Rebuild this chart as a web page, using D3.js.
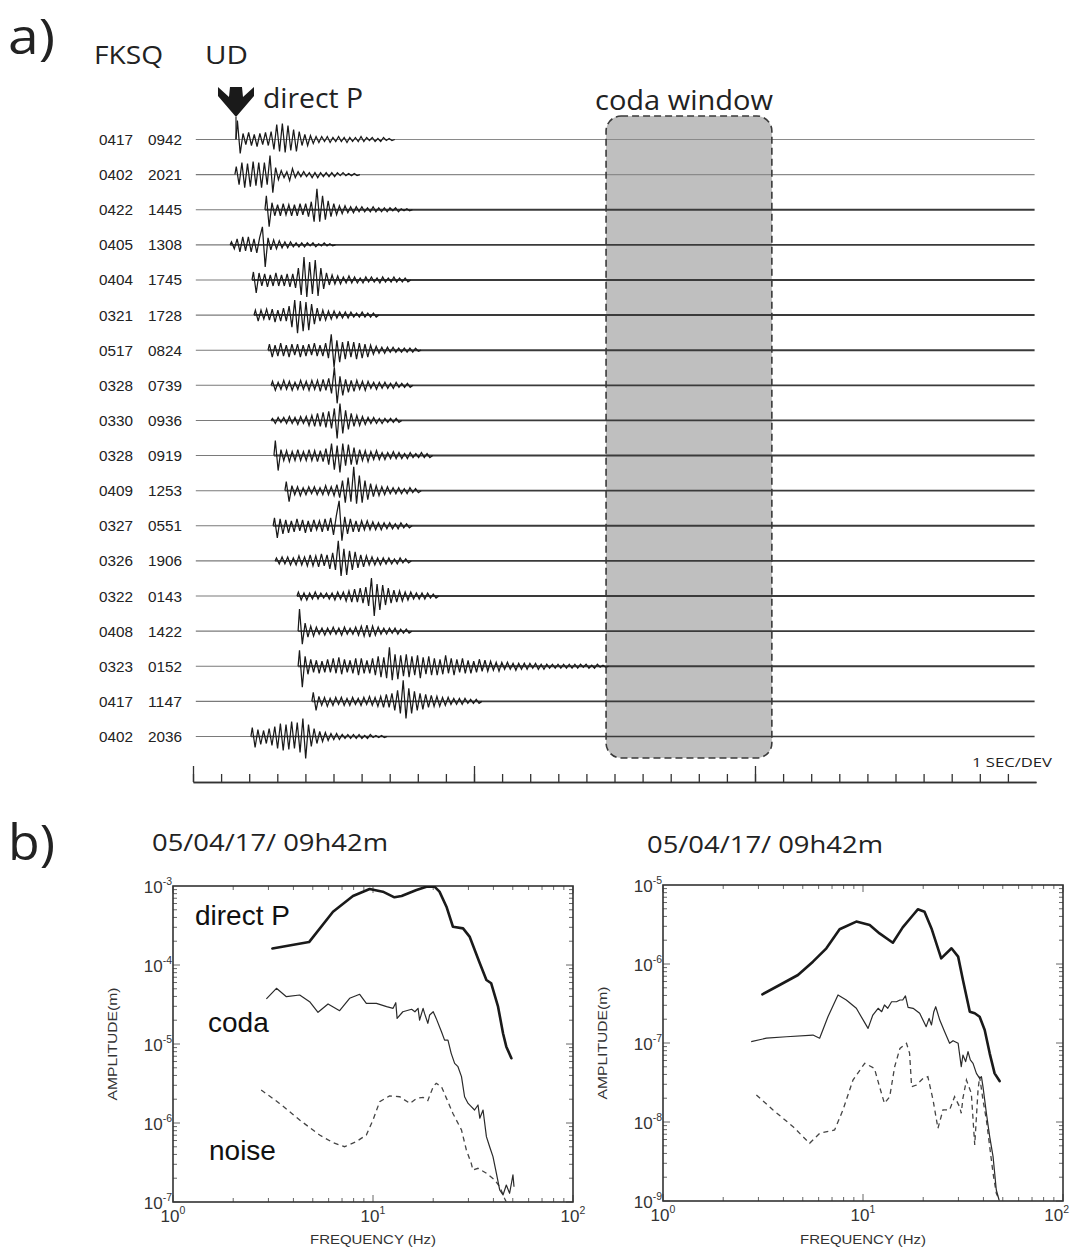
<!DOCTYPE html>
<html><head><meta charset="utf-8">
<script src="https://cdn.jsdelivr.net/npm/d3@7"></script>
<style>body{margin:0;background:#fff}svg{display:block}</style>
</head><body>
<svg id="c" width="1070" height="1259"></svg>
<script>
// ---------- Part a: seismograms ----------
const stationDates = ["0417","0402","0422","0405","0404","0321","0517","0328","0330","0328","0409","0327","0326","0322","0408","0323","0417","0402"];
const stationTimes = ["0942","2021","1445","1308","1745","1728","0824","0739","0936","0919","1253","0551","1906","0143","1422","0152","1147","2036"];
const onsets = [1.53,1.49,2.56,1.32,2.10,2.17,2.67,2.78,2.78,2.88,3.27,2.85,2.92,3.70,3.74,3.74,4.23,2.06]; // s
const sampleStep = 0.1; // s between successive peaks
const tr01 = [19,-14,6,-5,7,-6,5,-7,6,-5,7,-6,8,-10,15,-12,16,-13,14,-11,10,-12,8,-6,5,-6,4,-4,3,-3,3,-2,3,-3,2,-2,3,-2,2,-3,2,-2,2,-2,3,-2,2,-1,2,-2,1,-2,2,-1,1,-1];
const tr02 = [8,-10,12,-13,11,-12,13,-11,12,-13,12,-10,19,-18,7,-5,4,-3,3,-6,6,-3,3,-2,3,-2,2,-3,2,-3,2,-2,2,-2,2,-2,2,-1,2,-1,1,-1,1,-1];
const tr03 = [14,-17,7,-6,5,-6,6,-5,5,-6,5,-6,6,-5,6,-7,8,-12,21,-12,14,-10,9,-7,6,-5,4,-4,4,-3,3,-3,3,-2,3,-2,2,-2,3,-2,2,-2,2,-2,2,-1,2,-2,1,-1,1,-1];
const tr04 = [3,-4,6,-7,8,-6,8,-7,6,-8,7,18,-22,7,-5,5,-4,4,-3,3,-3,3,-2,2,-2,2,-2,2,-1,2,-2,1,-1,2,-1,1,-1];
const tr05 = [8,-13,7,-6,6,-7,5,-6,7,-6,5,-6,6,-7,6,-8,12,-15,23,-17,18,-14,20,-16,12,-9,7,-5,5,-4,4,-4,3,-3,4,-3,3,-3,2,-3,3,-2,3,-2,2,-3,3,-2,2,-2,3,-2,2,-2,2,-2];
const tr06 = [5,-6,5,-4,6,-5,6,-7,5,-6,7,-6,9,-12,15,-18,14,-16,13,-15,11,-9,7,-6,5,-5,4,-4,4,-3,3,-3,3,-3,3,-2,2,-2,3,-2,2,-2,2,-2];
const tr07 = [6,-7,5,-6,7,-6,5,-7,6,-5,6,-7,5,-6,6,-5,7,-6,5,-6,7,-8,16,-17,10,-12,8,-9,9,-7,8,-9,7,-8,6,-7,5,-4,4,-3,3,-3,3,-2,3,-2,2,-2,2,-2,2,-2,2,-1];
const tr08 = [4,-5,3,-4,5,-4,4,-5,3,-4,5,-4,4,-5,5,-4,5,-6,6,-5,7,-8,18,-18,9,-10,6,-7,5,-6,5,-4,4,-5,4,-3,3,-4,3,-3,3,-3,2,-3,3,-2,2,-2,2,-2];
const tr09 = [2,-3,3,-2,3,-3,4,-3,3,-4,4,-3,4,-5,5,-6,7,-6,8,-7,9,-8,12,-18,17,-13,10,-9,7,-6,5,-5,4,-4,3,-3,3,-3,2,-3,2,-2,2,-2,2,-2];
const tr10 = [15,-15,6,-5,5,-6,4,-5,6,-5,4,-5,6,-5,5,-6,5,-6,7,-9,12,-14,10,-17,12,-10,11,-9,8,-9,6,-5,5,-6,4,-4,5,-4,3,-4,3,-3,4,-3,3,-3,2,-3,3,-2,2,-2,3,-2,2,-2];
const tr11 = [9,-11,5,-4,4,-5,3,-4,4,-3,4,-4,3,-4,5,-4,4,-5,6,-7,10,-12,13,-11,24,-13,15,-12,10,-9,7,-6,5,-5,4,-4,4,-3,3,-3,3,-3,2,-3,3,-2,2,-2];
const tr12 = [8,-12,7,-8,6,-7,5,-6,7,-5,6,-7,5,-6,6,-4,5,-6,7,-5,8,-9,10,25,-15,9,-8,7,-6,5,-6,5,-4,5,-4,4,-4,3,-4,3,-3,3,-3,2,-3,3,-2,2,-2];
const tr13 = [3,-3,4,-3,4,-4,3,-4,5,-4,4,-5,6,-5,5,-6,7,-5,6,-8,8,-9,20,-15,12,-14,10,-9,9,-7,6,-6,5,-4,4,-4,3,-4,3,-3,3,-3,2,-3,3,-2,2,-2];
const tr14 = [4,-4,3,-4,3,-3,4,-3,3,-2,3,-3,3,-4,4,-3,4,-5,5,-6,7,-6,8,-7,9,-10,18,-20,12,-14,11,-9,8,-7,6,-6,5,-5,4,-4,4,-3,3,-3,3,-3,3,-2,2,-2];
const tr15 = [22,-13,8,-6,5,-5,4,-3,3,-4,3,-3,4,-3,3,-4,4,-3,3,-3,4,-4,5,-5,6,-6,5,-4,4,-3,3,-3,3,-2,3,-3,2,-2,2,-2];
const tr16 = [16,-21,10,-8,7,-6,6,-7,5,-6,7,-6,8,-7,9,-8,7,-6,6,-7,8,-9,8,-7,6,-7,8,-9,10,-11,9,-12,19,-14,12,-13,11,-10,12,-11,10,-9,11,-12,9,-8,10,-9,8,-9,7,-8,11,-7,8,-9,7,-6,8,-7,6,-7,5,-6,7,-5,6,-5,5,-4,4,-5,4,-3,4,-3,3,-4,3,-3,3,-3,3,-2,3,-3,2,-3,2,-2,2,-2,2,-2,2,-2,2,-2,2,-2,2,-1,2,-2,1,-2,2,-1,1,-1];
const tr17 = [9,-9,5,-4,4,-5,3,-4,4,-3,4,-4,3,-4,4,-3,3,-4,4,-3,5,-4,4,-5,5,-6,7,-6,8,-9,11,-12,21,-17,13,-12,10,-9,8,-8,7,-6,6,-5,5,-5,4,-4,4,-3,3,-3,3,-3,3,-2,2,-2,2,-2];
const tr18 = [9,-11,7,-8,6,-7,8,-9,10,-12,13,-14,12,-13,15,-12,14,-16,18,-22,12,-10,8,-7,5,-5,4,-4,3,-3,3,-3,2,-2,2,-2,2,-2,2,-2,1,-2,2,-1,1,-1,1,-1];
const traceSamples = [tr01,tr02,tr03,tr04,tr05,tr06,tr07,tr08,tr09,tr10,tr11,tr12,tr13,tr14,tr15,tr16,tr17,tr18];
const tailNoise = [0.3,0.4,0.9,0.8,1.1,1.1,1.0,0.9,0.9,1.0,0.9,1.0,1.0,1.0,0.9,1.0,1.0,0.7];
const codaWindow = [14.7, 20.6];
const timeTicks = d3.range(0, 30, 1);
const majorTimeTicks = [0, 10, 20];

// ---------- Part b: spectra ----------
const pLF = [3.14,4.79,6.31,7.94,9.62,11.2,12.8,13.9,16.5,18.5,20.3,21.5,23.3,25.1,28.2,30.4,34.2,36.9,39.0,42.2,44.7,46.4,49.2];
const pLA = [1.62e-4,1.95e-4,4.73e-4,7.47e-4,9.16e-4,8.48e-4,7.19e-4,7.47e-4,8.9e-4,9.8e-4,9.8e-4,8.48e-4,5.47e-4,3.05e-4,2.91e-4,2.29e-4,1.05e-4,6.46e-5,5.87e-5,2.97e-5,1.36e-5,9.25e-6,6.6e-6];
const cLF = [2.93,3.29,3.69,4.30,4.82,5.31,5.96,6.81,7.64,8.58,9.26,10.4,11.7,12.6,13.0,13.2,14.1,15.6,16.2,16.8,17.1,17.8,18.1,18.8,19.2,20.0,20.7,22.0,22.8,23.7,24.6,25.6,26.6,27.7,28.7,29.9,31.0,32.2,33.5,34.2,35.5,36.9,38.3,39.8,41.4,43.0,44.7,46.4,48.2,50.1,50.7];
const cLA = [3.72e-5,5.07e-5,3.97e-5,4.17e-5,3.43e-5,2.52e-5,3.21e-5,2.64e-5,3.79e-5,4.26e-5,3.27e-5,3.27e-5,2.97e-5,2.83e-5,3.33e-5,2.11e-5,2.56e-5,2.75e-5,2.56e-5,2.83e-5,2.01e-5,2.83e-5,2.44e-5,1.83e-5,2.33e-5,2.56e-5,2.11e-5,1.43e-5,1.12e-5,1.12e-5,7.62e-6,5.69e-6,5.16e-6,3.86e-6,2.15e-6,1.77e-6,1.61e-6,1.46e-6,1.69e-6,1.15e-6,1.46e-6,6.71e-7,5.01e-7,3.75e-7,2.31e-7,1.42e-7,1.23e-7,1.64e-7,1.29e-7,2.20e-7,1.56e-7];
const nLF = [2.76,3.41,4.30,5.41,6.31,7.21,8.25,9.26,10.0,10.8,12.1,13.6,15.3,16.5,17.8,18.8,20.0,20.7,22.0,23.3,25.1,27.7,29.3,31.0,31.6,33.5,36.9,40.6,43.0,45.5,46.4];
const nLA = [2.62e-6,1.77e-6,1.09e-6,7.05e-7,5.64e-7,5.01e-7,5.80e-7,7.05e-7,1.09e-6,1.86e-6,2.20e-6,2.15e-6,1.77e-6,2.05e-6,2.11e-6,1.92e-6,2.88e-6,3.18e-6,2.88e-6,2.05e-6,1.32e-6,8.15e-7,4.55e-7,3.08e-7,2.54e-7,2.67e-7,2.31e-7,1.90e-7,1.56e-7,1.11e-7,1.0e-7];

const pRF = [3.14,3.83,4.73,5.62,6.56,7.64,9.26,10.8,12.1,14.1,15.8,17.8,18.8,20.3,22.0,24.6,27.7,29.9,31.6,34.2,36.2,38.3,40.6,43.0,45.5,48.2];
const pRA = [4.13e-7,5.42e-7,7.26e-7,1.07e-6,1.58e-6,2.75e-6,3.44e-6,3.12e-6,2.44e-6,1.86e-6,2.91e-6,4.17e-6,4.92e-6,4.59e-6,2.82e-6,1.18e-6,1.58e-6,1.24e-6,6.27e-7,2.49e-7,2.38e-7,2.15e-7,1.46e-7,7.40e-8,4.13e-8,3.30e-8];
const cRF = [2.76,3.29,4.14,5.62,6.07,6.68,7.50,8.25,9.26,10.6,11.2,11.9,12.4,12.8,13.3,13.9,14.7,15.3,15.8,16.3,16.8,17.8,19.2,20.7,21.4,22.0,22.6,23.1,24.2,25.6,27.1,28.2,29.9,31.0,31.6,32.6,33.5,34.4,35.5,36.9,38.3,39.1,39.8,41.4,43.0,44.7,46.4,47.9];
const cRA = [1.04e-7,1.15e-7,1.20e-7,1.26e-7,1.15e-7,2.15e-7,4.06e-7,3.50e-7,2.75e-7,1.53e-7,2.26e-7,2.75e-7,2.49e-7,3.03e-7,2.75e-7,3.33e-7,3.33e-7,3.50e-7,3.50e-7,3.94e-7,2.83e-7,2.75e-7,2.38e-7,1.61e-7,2.05e-7,1.69e-7,2.49e-7,2.88e-7,1.95e-7,1.39e-7,9.91e-8,1.07e-7,9.91e-8,5.01e-8,7.05e-8,5.81e-8,7.76e-8,6.10e-8,5.53e-8,4.13e-8,3.57e-8,3.75e-8,2.80e-8,1.29e-8,6.52e-9,3.64e-9,1.38e-9,1.03e-9];
const nRF = [2.93,3.55,4.47,5.41,6.07,7.21,7.94,8.91,10.2,11.4,12.1,12.8,13.6,14.4,15.3,16.5,17.1,17.5,18.5,20.0,21.1,22.4,23.7,25.1,27.1,28.7,30.4,31.0,31.6,32.9,34.8,36.2,37.6,38.3,39.8,41.4,43.0,44.7,46.4,48.2];
const nRA = [2.20e-8,1.42e-8,8.73e-9,5.37e-9,7.19e-9,7.92e-9,1.42e-8,3.40e-8,5.53e-8,4.78e-8,2.80e-8,1.72e-8,2.09e-8,5.01e-8,8.55e-8,9.91e-8,7.40e-8,2.80e-8,2.94e-8,3.57e-8,3.75e-8,1.90e-8,8.32e-9,1.42e-8,1.42e-8,2.09e-8,1.56e-8,1.29e-8,2.00e-8,3.40e-8,2.31e-8,5.12e-9,2.54e-8,3.75e-8,1.90e-8,1.06e-8,4.88e-9,2.24e-9,1.25e-9,1.01e-9];

const leftYTicks = [-3,-4,-5,-6,-7];
const rightYTicks = [-5,-6,-7,-8,-9];
const xTickExps = [0,1,2];

const svg = d3.select("#c");
const FONT_T = "'Open Sans', 'Noto Sans', sans-serif";
const FONT_H = "'Liberation Sans', Arial, sans-serif";

// ----- part a drawing -----
const tx = d3.scaleLinear().domain([0, 30]).range([193, 1036]);
const ty = d3.scaleLinear().domain([0, 17]).range([139.5, 736.5]);
const amp = d3.scaleLinear().domain([0, 10]).range([0, -10]);

svg.append("text").attr("x", 8).attr("y", 54).attr("font-family", FONT_T).attr("font-size", 50)
  .attr("fill", "#222").attr("textLength", 47).attr("lengthAdjust", "spacingAndGlyphs").text("a)");
svg.append("text").attr("x", 94).attr("y", 64).attr("font-family", FONT_T).attr("font-size", 26)
  .attr("fill", "#222").attr("textLength", 69).attr("lengthAdjust", "spacingAndGlyphs").text("FKSQ");
svg.append("text").attr("x", 205).attr("y", 64).attr("font-family", FONT_T).attr("font-size", 26)
  .attr("fill", "#222").attr("textLength", 43).attr("lengthAdjust", "spacingAndGlyphs").text("UD");
svg.append("text").attr("x", 263).attr("y", 108).attr("font-family", FONT_T).attr("font-size", 27)
  .attr("fill", "#222").attr("textLength", 100).attr("lengthAdjust", "spacingAndGlyphs").text("direct P");
svg.append("text").attr("x", 595).attr("y", 110).attr("font-family", FONT_T).attr("font-size", 27)
  .attr("fill", "#222").attr("textLength", 178).attr("lengthAdjust", "spacingAndGlyphs").text("coda window");

// coda window background
svg.append("rect").attr("x", tx(codaWindow[0])).attr("y", 116)
  .attr("width", tx(codaWindow[1]) - tx(codaWindow[0])).attr("height", 642)
  .attr("rx", 15).attr("fill", "#bfbfbf");

// arrow
const ax = tx(onsets[0]), ay = 117;
svg.append("polygon").attr("fill", "#1a1a1a").attr("points", [
  [ax-18, ay-30],[ax-7, ay-20],[ax-6, ay-30],[ax+6, ay-30],[ax+7, ay-20],[ax+18, ay-30],[ax+18, ay-21],[ax, ay],[ax-18, ay-21]
].map(p => p.join(",")).join(" "));
svg.append("line").attr("x1", ax).attr("x2", ax).attr("y1", ay).attr("y2", ty(0)).attr("stroke", "#222").attr("stroke-width", 1.2);

// station labels and traces
const lineGen = d3.line().x(d => tx(d[0])).y(d => d[1]);
const gt = svg.append("g");
traceSamples.forEach((s, i) => {
  const y0 = ty(i);
  const t0 = onsets[i];
  gt.append("text").attr("x", 99).attr("y", y0 + 5.5).attr("font-family", FONT_H).attr("font-size", 15.5)
    .attr("fill", "#222").attr("textLength", 34).attr("lengthAdjust", "spacingAndGlyphs").text(stationDates[i]);
  gt.append("text").attr("x", 148).attr("y", y0 + 5.5).attr("font-family", FONT_H).attr("font-size", 15.5)
    .attr("fill", "#222").attr("textLength", 34).attr("lengthAdjust", "spacingAndGlyphs").text(stationTimes[i]);
  // quiet pre-event baseline
  gt.append("line").attr("x1", tx(0.1)).attr("x2", tx(t0)).attr("y1", y0).attr("y2", y0)
    .attr("stroke", "#7a7a7a").attr("stroke-width", 1.1);
  // post-event background noise level
  gt.append("line").attr("x1", tx(t0)).attr("x2", tx(29.95)).attr("y1", y0).attr("y2", y0)
    .attr("stroke", tailNoise[i] < 0.5 ? "#8a8a8a" : "#3a3a3a")
    .attr("stroke-width", 0.9 + tailNoise[i]);
  const pts = [[t0, y0]].concat(s.map((v, k) => [t0 + (k + 0.5) * sampleStep, y0 + amp(v)]));
  pts.push([t0 + (s.length + 0.5) * sampleStep, y0]);
  gt.append("path").attr("d", lineGen(pts)).attr("fill", "none").attr("stroke", "#1a1a1a")
    .attr("stroke-width", 1.25).attr("stroke-linejoin", "miter");
});

// coda window dashed border on top
svg.append("rect").attr("x", tx(codaWindow[0])).attr("y", 116)
  .attr("width", tx(codaWindow[1]) - tx(codaWindow[0])).attr("height", 642)
  .attr("rx", 15).attr("fill", "none").attr("stroke", "#3a3a3a").attr("stroke-width", 1.6)
  .attr("stroke-dasharray", "7,4");

// time axis
const axisY = 782;
const gMinor = svg.append("g").attr("transform", `translate(0,${axisY})`)
  .call(d3.axisTop(tx).tickValues(timeTicks).tickSize(8).tickSizeOuter(0).tickFormat(""));
const gMajor = svg.append("g").attr("transform", `translate(0,${axisY})`)
  .call(d3.axisTop(tx).tickValues(majorTimeTicks).tickSize(16).tickSizeOuter(0).tickFormat(""));
[gMinor, gMajor].forEach(g => {
  g.selectAll("line").attr("stroke", "#333").attr("stroke-width", 1.3);
  g.select(".domain").attr("stroke", "#333").attr("stroke-width", 1.5);
});
svg.append("text").attr("x", 972).attr("y", 767).attr("font-family", FONT_T).attr("font-size", 12)
  .attr("fill", "#222").attr("textLength", 80).attr("lengthAdjust", "spacingAndGlyphs").text("1 SEC/DEV");

// ----- part b -----
svg.append("text").attr("x", 8).attr("y", 860).attr("font-family", FONT_T).attr("font-size", 50)
  .attr("fill", "#222").attr("textLength", 47).attr("lengthAdjust", "spacingAndGlyphs").text("b)");

function panel(cfg) {
  const x = d3.scaleLog().domain([1, 100]).range([cfg.left, cfg.right]);
  const y = d3.scaleLog().domain([Math.pow(10, cfg.yExps[cfg.yExps.length-1]), Math.pow(10, cfg.yExps[0])]).range([cfg.bottom, cfg.top]);
  const g = svg.append("g");
  g.append("text").attr("x", cfg.titleX).attr("y", cfg.titleY).attr("font-family", FONT_T).attr("font-size", 23)
    .attr("fill", "#222").attr("textLength", 236).attr("lengthAdjust", "spacingAndGlyphs").text("05/04/17/ 09h42m");
  const xt = [];
  for (let e = 0; e < 2; e++) for (let m = 1; m < 10; m++) xt.push(m * Math.pow(10, e));
  xt.push(100);
  const yt = [];
  for (let e = cfg.yExps[cfg.yExps.length-1]; e < cfg.yExps[0]; e++) for (let m = 1; m < 10; m++) yt.push(m * Math.pow(10, e));
  const tcol = "#666";
  const isMajor = v => Math.abs(Math.log10(v) - Math.round(Math.log10(v))) < 1e-9;
  xt.forEach(v => {
    const L = isMajor(v) ? 7 : 4;
    g.append("line").attr("x1", x(v)).attr("x2", x(v)).attr("y1", cfg.bottom).attr("y2", cfg.bottom - L).attr("stroke", tcol);
    g.append("line").attr("x1", x(v)).attr("x2", x(v)).attr("y1", cfg.top).attr("y2", cfg.top + L).attr("stroke", tcol);
  });
  yt.forEach(v => {
    const L = isMajor(v) ? 7 : 4;
    g.append("line").attr("y1", y(v)).attr("y2", y(v)).attr("x1", cfg.left).attr("x2", cfg.left + L).attr("stroke", tcol);
    g.append("line").attr("y1", y(v)).attr("y2", y(v)).attr("x1", cfg.right).attr("x2", cfg.right - L).attr("stroke", tcol);
  });
  g.append("rect").attr("x", cfg.left).attr("y", cfg.top).attr("width", cfg.right - cfg.left)
    .attr("height", cfg.bottom - cfg.top).attr("fill", "none").attr("stroke", "#333").attr("stroke-width", 1.6);
  cfg.yExps.forEach(e => {
    const t = g.append("text").attr("x", cfg.left - 1).attr("y", y(Math.pow(10, e)) + 7)
      .attr("text-anchor", "end").attr("font-family", FONT_H).attr("font-size", 17).attr("fill", "#333");
    t.append("tspan").text("10");
    t.append("tspan").attr("dy", -8).attr("font-size", 10.5).text(String(e));
  });
  xTickExps.forEach(e => {
    let xp = x(Math.pow(10, e)), anchor = "middle";
    if (xp + 16 > 1069) { xp = 1069; anchor = "end"; }
    const t = g.append("text").attr("x", xp).attr("y", cfg.bottom + 20)
      .attr("text-anchor", anchor).attr("font-family", FONT_H).attr("font-size", 17).attr("fill", "#333");
    t.append("tspan").text("10");
    t.append("tspan").attr("dy", -8).attr("font-size", 10.5).text(String(e));
  });
  g.append("text").attr("transform", `translate(${cfg.yLabX},${(cfg.top + cfg.bottom) / 2}) rotate(-90)`)
    .attr("text-anchor", "middle").attr("font-family", FONT_H).attr("font-size", 13.5).attr("fill", "#333")
    .attr("textLength", 113).attr("lengthAdjust", "spacingAndGlyphs").text("AMPLITUDE(m)");
  g.append("text").attr("x", x(10)).attr("y", 1244).attr("text-anchor", "middle")
    .attr("font-family", FONT_H).attr("font-size", 13.5).attr("fill", "#333")
    .attr("textLength", 126).attr("lengthAdjust", "spacingAndGlyphs").text("FREQUENCY (Hz)");
  const ln = d3.line().x(d => x(d[0])).y(d => y(d[1]));
  const clipId = "clip" + cfg.left;
  svg.append("clipPath").attr("id", clipId).append("rect").attr("x", cfg.left).attr("y", cfg.top)
    .attr("width", cfg.right - cfg.left).attr("height", cfg.bottom - cfg.top);
  const gl = g.append("g").attr("clip-path", `url(#${clipId})`);
  gl.append("path").attr("d", ln(d3.zip(cfg.nF, cfg.nA))).attr("fill", "none").attr("stroke", "#444")
    .attr("stroke-width", 1.3).attr("stroke-dasharray", "5,4");
  gl.append("path").attr("d", ln(d3.zip(cfg.cF, cfg.cA))).attr("fill", "none").attr("stroke", "#2a2a2a")
    .attr("stroke-width", 1.2).attr("stroke-linejoin", "round");
  gl.append("path").attr("d", ln(d3.zip(cfg.pF, cfg.pA))).attr("fill", "none").attr("stroke", "#1a1a1a")
    .attr("stroke-width", 2.6).attr("stroke-linejoin", "round").attr("stroke-linecap", "round");
  return g;
}

const gL = panel({left: 173, right: 573, top: 886, bottom: 1202, yExps: leftYTicks, titleX: 152, titleY: 851, yLabX: 117,
  pF: pLF, pA: pLA, cF: cLF, cA: cLA, nF: nLF, nA: nLA});
panel({left: 663, right: 1063, top: 885, bottom: 1201, yExps: rightYTicks, titleX: 647, titleY: 853, yLabX: 607,
  pF: pRF, pA: pRA, cF: cRF, cA: cRA, nF: nRF, nA: nRA});

gL.append("text").attr("x", 195).attr("y", 925).attr("font-family", FONT_H).attr("font-size", 28).attr("fill", "#111").text("direct P");
gL.append("text").attr("x", 208).attr("y", 1032).attr("font-family", FONT_H).attr("font-size", 28).attr("fill", "#111").text("coda");
gL.append("text").attr("x", 209).attr("y", 1160).attr("font-family", FONT_H).attr("font-size", 28).attr("fill", "#111").text("noise");
</script>
</body></html>
